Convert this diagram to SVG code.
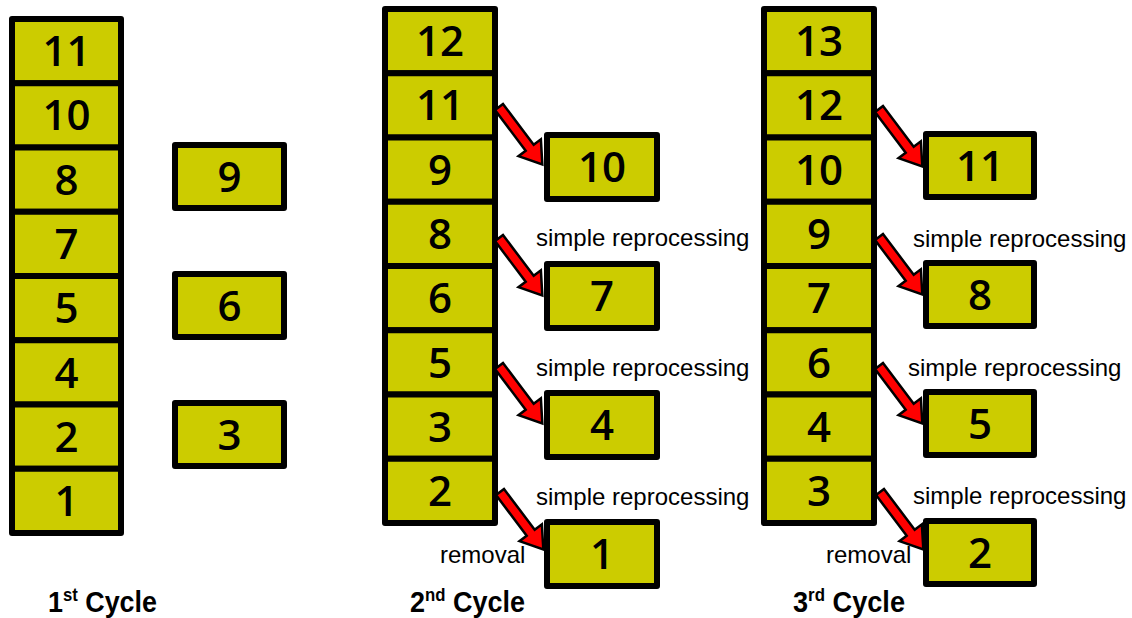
<svg xmlns="http://www.w3.org/2000/svg" width="1132" height="618" viewBox="0 0 1132 618">
  <style>
    .cell { fill: #cccc00; stroke: #000; stroke-width: 6; stroke-linejoin: round; }
    .num { font-family: "Open Sans", "DejaVu Sans", sans-serif; font-weight: 600; font-size: 42px; fill: #000; text-anchor: middle; }
    .note { font-family: "Liberation Sans", Arial, sans-serif; font-size: 24px; fill: #000; }
    .cap { font-family: "Liberation Sans", Arial, sans-serif; font-weight: 700; font-size: 29px; fill: #000; }
    .arrow { fill: #ff0000; stroke: #000; stroke-width: 2.5; stroke-linejoin: miter; }
  </style>
  <defs>
    <!-- block arrow pointing along +x, tail at origin -->
    <path id="blk" class="arrow" d="M0,-5 L51,-5 L51,-14 L72,0 L51,14 L51,5 L0,5 Z"/>
  </defs>
  <rect width="1132" height="618" fill="#fff"/>

  <!-- Cycle 1 stack -->
  <g id="c1-11"><rect class="cell" x="12" y="19" width="109" height="64.25"/><text class="num" x="66.5" y="66">11</text></g>
  <g id="c1-10"><rect class="cell" x="12" y="83.25" width="109" height="64.25"/><text class="num" x="66.5" y="130">10</text></g>
  <g id="c1-8"><rect class="cell" x="12" y="147.5" width="109" height="64.25"/><text class="num" x="66.5" y="195">8</text></g>
  <g id="c1-7"><rect class="cell" x="12" y="211.75" width="109" height="64.25"/><text class="num" x="66.5" y="259">7</text></g>
  <g id="c1-5"><rect class="cell" x="12" y="276" width="109" height="64.25"/><text class="num" x="66.5" y="323">5</text></g>
  <g id="c1-4"><rect class="cell" x="12" y="340.25" width="109" height="64.25"/><text class="num" x="66.5" y="388">4</text></g>
  <g id="c1-2"><rect class="cell" x="12" y="404.5" width="109" height="64.25"/><text class="num" x="66.5" y="452">2</text></g>
  <g id="c1-1"><rect class="cell" x="12" y="468.75" width="109" height="64.25"/><text class="num" x="66.5" y="516">1</text></g>

  <g id="c1-9"><rect class="cell" x="175" y="145" width="109" height="63"/><text class="num" x="229.5" y="192">9</text></g>
  <g id="c1-6"><rect class="cell" x="175" y="274" width="109" height="63"/><text class="num" x="229.5" y="321">6</text></g>
  <g id="c1-3"><rect class="cell" x="175" y="403" width="109" height="63"/><text class="num" x="229.5" y="450">3</text></g>

  <!-- Cycle 2 stack -->
  <g id="c2-12"><rect class="cell" x="385" y="9" width="110" height="64.25"/><text class="num" x="440" y="56">12</text></g>
  <g id="c2-11"><rect class="cell" x="385" y="73.25" width="110" height="64.25"/><text class="num" x="440" y="120">11</text></g>
  <g id="c2-9"><rect class="cell" x="385" y="137.5" width="110" height="64.25"/><text class="num" x="440" y="185">9</text></g>
  <g id="c2-8"><rect class="cell" x="385" y="201.75" width="110" height="64.25"/><text class="num" x="440" y="249">8</text></g>
  <g id="c2-6"><rect class="cell" x="385" y="266" width="110" height="64.25"/><text class="num" x="440" y="313">6</text></g>
  <g id="c2-5"><rect class="cell" x="385" y="330.25" width="110" height="64.25"/><text class="num" x="440" y="378">5</text></g>
  <g id="c2-3"><rect class="cell" x="385" y="394.5" width="110" height="64.25"/><text class="num" x="440" y="442">3</text></g>
  <g id="c2-2"><rect class="cell" x="385" y="458.75" width="110" height="64.25"/><text class="num" x="440" y="506">2</text></g>

  <g id="c2-10"><rect class="cell" x="547" y="135" width="110" height="64"/><text class="num" x="602" y="182">10</text></g>
  <g id="c2-7"><rect class="cell" x="547" y="264" width="110" height="64"/><text class="num" x="602" y="311">7</text></g>
  <g id="c2-4"><rect class="cell" x="547" y="393" width="110" height="64"/><text class="num" x="602" y="440">4</text></g>
  <g id="c2-1"><rect class="cell" x="547" y="522" width="110" height="64"/><text class="num" x="602" y="569">1</text></g>

  <!-- Cycle 3 stack -->
  <g id="c3-13"><rect class="cell" x="764" y="9" width="110" height="64.25"/><text class="num" x="819" y="56">13</text></g>
  <g id="c3-12"><rect class="cell" x="764" y="73.25" width="110" height="64.25"/><text class="num" x="819" y="120">12</text></g>
  <g id="c3-10"><rect class="cell" x="764" y="137.5" width="110" height="64.25"/><text class="num" x="819" y="185">10</text></g>
  <g id="c3-9"><rect class="cell" x="764" y="201.75" width="110" height="64.25"/><text class="num" x="819" y="249">9</text></g>
  <g id="c3-7"><rect class="cell" x="764" y="266" width="110" height="64.25"/><text class="num" x="819" y="313">7</text></g>
  <g id="c3-6"><rect class="cell" x="764" y="330.25" width="110" height="64.25"/><text class="num" x="819" y="378">6</text></g>
  <g id="c3-4"><rect class="cell" x="764" y="394.5" width="110" height="64.25"/><text class="num" x="819" y="442">4</text></g>
  <g id="c3-3"><rect class="cell" x="764" y="458.75" width="110" height="64.25"/><text class="num" x="819" y="506">3</text></g>

  <g id="c3-11"><rect class="cell" x="926" y="134" width="108" height="63"/><text class="num" x="980" y="181">11</text></g>
  <g id="c3-8"><rect class="cell" x="926" y="263" width="108" height="63"/><text class="num" x="980" y="310">8</text></g>
  <g id="c3-5"><rect class="cell" x="926" y="392" width="108" height="63"/><text class="num" x="980" y="439">5</text></g>
  <g id="c3-2"><rect class="cell" x="926" y="521" width="108" height="63"/><text class="num" x="980" y="568">2</text></g>

  <!-- connectors -->
  <g id="connectors">
    <use href="#blk" transform="translate(499,107) rotate(53)"/>
    <use href="#blk" transform="translate(499,238) rotate(53)"/>
    <use href="#blk" transform="translate(499,366) rotate(53)"/>
    <use href="#blk" transform="translate(500,492) rotate(53)"/>
    <use href="#blk" transform="translate(879,109) rotate(53)"/>
    <use href="#blk" transform="translate(879,237) rotate(53)"/>
    <use href="#blk" transform="translate(879,366) rotate(53)"/>
    <use href="#blk" transform="translate(880,492) rotate(53)"/>
  </g>

  <!-- annotations -->
  <g id="labels">
    <text class="note" x="536" y="246">simple reprocessing</text>
    <text class="note" x="536" y="376">simple reprocessing</text>
    <text class="note" x="536" y="505">simple reprocessing</text>
    <text class="note" x="440" y="563">removal</text>
    <text class="note" x="913" y="247">simple reprocessing</text>
    <text class="note" x="908" y="376">simple reprocessing</text>
    <text class="note" x="913" y="504">simple reprocessing</text>
    <text class="note" x="826" y="563">removal</text>
    <text class="cap" x="48" y="612" textLength="109" lengthAdjust="spacingAndGlyphs">1<tspan font-size="18" dy="-11">st</tspan><tspan dy="11"> Cycle</tspan></text>
    <text class="cap" x="410" y="612" textLength="115" lengthAdjust="spacingAndGlyphs">2<tspan font-size="18" dy="-11">nd</tspan><tspan dy="11"> Cycle</tspan></text>
    <text class="cap" x="793" y="612" textLength="112" lengthAdjust="spacingAndGlyphs">3<tspan font-size="18" dy="-11">rd</tspan><tspan dy="11"> Cycle</tspan></text>
  </g>
</svg>
